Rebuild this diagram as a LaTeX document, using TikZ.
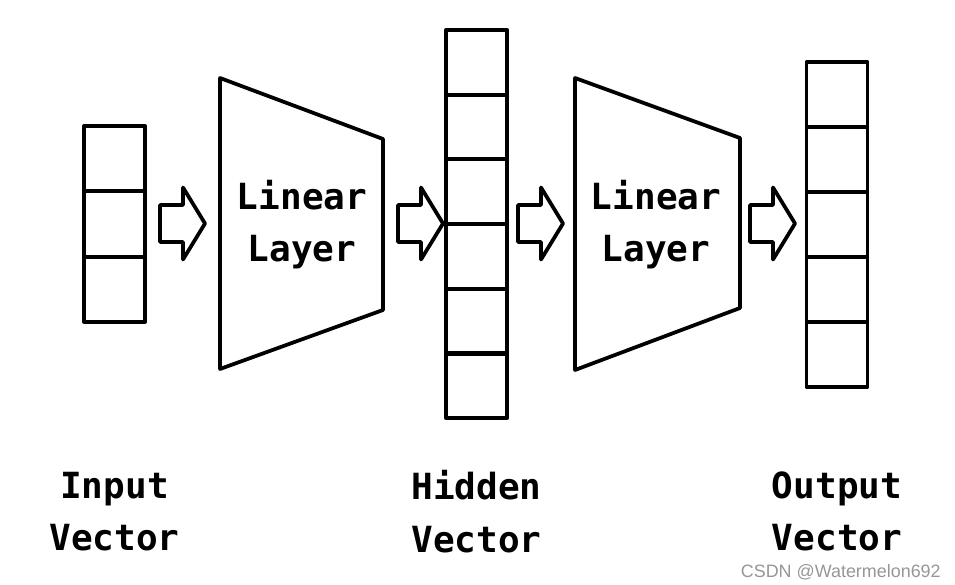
\documentclass[tikz,border=0pt]{standalone}
\usepackage{fontspec}
\setmainfont{Liberation Sans}
\setmonofont{DejaVu Sans Mono}
\definecolor{wmgray}{RGB}{150,150,150}
\tikzset{nnfig/.style={x=0.02cm,y=-0.02cm,line width=0.075cm,line join=round},
  cell/.style={draw,minimum width=1.22cm,minimum height=1.3cm,inner sep=0pt,outer sep=0pt},
  lbl/.style={align=center,inner sep=0pt,font=\ttfamily\bfseries\fontsize{20.5}{30}\selectfont},
  blockarr/.pic={\draw (0,-18.5) -- (23,-18.5) -- (23,-36) -- (45,0) -- (23,36) -- (23,18.5) -- (0,18.5) -- cycle;}}

\begin{document}
\begin{tikzpicture}[nnfig]
    \useasboundingbox (0,0) rectangle (955,584);
    % vectors
    \foreach \i in {1,...,3} \node[cell] (in\i) at (114.5,{126+65.3*(\i-0.5)}) {};
    \foreach \i in {1,...,6} \node[cell] (hid\i) at (476.5,{30+64.7*(\i-0.5)}) {};
    \foreach \i in {1,...,5} \node[cell] (out\i) at (837,{62+65*(\i-0.5)}) {};
    % linear layers
    \draw (220,78) -- (383,139) -- (383,310) -- (220,369) -- cycle;
    \draw (575,78) -- (740,138) -- (740,308) -- (575,370) -- cycle;
    \node[lbl] (lin1) at (302,224.5) {Linear\\Layer};
    \node[lbl] (lin2) at (656,224.5) {Linear\\Layer};
    % arrows
    \foreach \x in {160,398,518,750} \pic at (\x,223.5) {blockarr};
    \node[lbl] (inlbl) at (114.5,511.5) {Input\\Vector};
    \node[lbl] (hidlbl) at (476.5,511.5) {Hidden\\Vector};
    \node[lbl] (outlbl) at (837,511.5) {Output\\Vector};
    \node[wmgray,inner sep=0pt,font=\fontsize{10.2}{12}\selectfont,anchor=base west] (wm) at (739,577) {CSDN @Watermelon692};
\end{tikzpicture}
\end{document}
